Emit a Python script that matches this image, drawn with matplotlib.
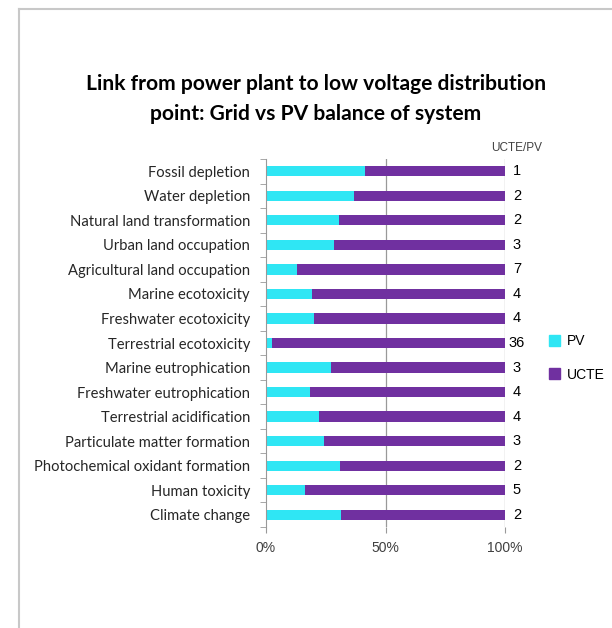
import numpy as np
import matplotlib
matplotlib.use("Agg")
import matplotlib.pyplot as plt
from matplotlib.lines import Line2D
from matplotlib.patches import Patch

# data (top to bottom as in the chart)
categories = ['Fossil depletion', 'Water depletion', 'Natural land transformation',
              'Urban land occupation', 'Agricultural land occupation', 'Marine ecotoxicity',
              'Freshwater ecotoxicity', 'Terrestrial ecotoxicity', 'Marine eutrophication',
              'Freshwater eutrophication', 'Terrestrial acidification',
              'Particulate matter formation', 'Photochemical oxidant formation',
              'Human toxicity', 'Climate change']
pv_share = [41.4, 36.8, 30.5, 28.5, 12.8, 19.4, 20.1, 2.7, 27.3, 18.4, 22.0, 24.3, 31.1, 16.5, 31.5]
ratio = [1, 2, 2, 3, 7, 4, 4, 36, 3, 4, 4, 3, 2, 5, 2]

pv_color = '#2FE6F4'
ucte_color = '#7030A0'

fig = plt.figure(figsize=(6.12, 6.28), dpi=100)
W, H = 612, 628

# outer frame (left and top only visible)
fig.add_artist(Line2D([18.5 / W, 18.5 / W], [0, 1 - 9 / H], transform=fig.transFigure,
                      color='#c8c8c8', lw=1.5))
fig.add_artist(Line2D([18.5 / W, 1], [1 - 9 / H, 1 - 9 / H], transform=fig.transFigure,
                      color='#c8c8c8', lw=1.5))

ax = fig.add_axes([266 / W, 1 - 527 / H, (505 - 266) / W, (527 - 159) / H])

pv = np.array(pv_share)
ucte = 100 - pv
y = np.arange(len(categories))[::-1]

ax.barh(y, pv, height=0.42, color=pv_color, label='PV')
ax.barh(y, ucte, left=pv, height=0.42, color=ucte_color, label='UCTE')

ax.set_xlim(0, 100)
ax.set_ylim(-0.5, len(categories) - 0.5)

ax.set_xticks([0, 50, 100])
ax.set_xticklabels(['0%', '50%', '100%'], fontfamily='Liberation Sans', fontsize=10, color='#404040')
ax.set_yticks(y)
ax.set_yticklabels(categories, fontfamily='Lato', fontsize=10.6, color='#262626')
ax.set_yticks(np.arange(-0.5, len(categories)), minor=True)
ax.tick_params(axis='y', which='major', length=0, pad=11.5)
ax.tick_params(axis='y', which='minor', length=4, color='#999999', direction='out')
ax.tick_params(axis='x', length=4, color='#999999', pad=6)

for s in ['top', 'right', 'bottom']:
    ax.spines[s].set_visible(False)
ax.spines['left'].set_color('#999999')

for gx in [50, 100]:
    ax.axvline(gx, color='#999999', lw=0.9, zorder=0)

for yi, r in zip(y, ratio):
    ax.text(105, yi, str(r), ha='center', va='center', fontsize=10.5,
            fontfamily='Liberation Sans', color='black', clip_on=False)
ax.text(105, len(categories) - 0.3, 'UCTE/PV', ha='center', va='bottom', fontsize=8.5,
        fontfamily='Liberation Sans', color='#404040', clip_on=False)

handles = [Patch(color=pv_color, label='PV'), Patch(color=ucte_color, label='UCTE')]
fig.legend(handles=handles, loc='upper left', bbox_to_anchor=(545 / W, 1 - 330 / H),
           frameon=False, prop={'family': 'Liberation Sans', 'size': 10},
           handlelength=0.8, handleheight=0.8, labelspacing=1.4, handletextpad=0.5,
           borderaxespad=0, borderpad=0.3)

fig.text(316 / W, 1 - 99 / H, 'Link from power plant to low voltage distribution\npoint: Grid vs PV balance of system',
         ha='center', va='center', fontsize=15.1, fontweight='bold', fontfamily='Lato',
         linespacing=1.62, color='black')

fig.savefig('out.png', dpi=100)
